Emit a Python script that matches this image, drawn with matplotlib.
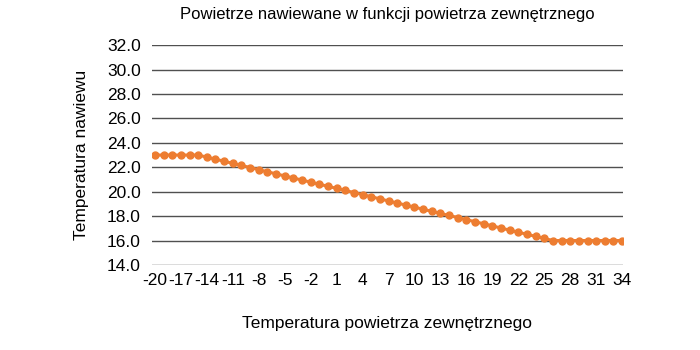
import matplotlib
matplotlib.use('Agg')
import matplotlib.pyplot as plt

plt.rcParams['font.family'] = ['Liberation Sans Narrow', 'Liberation Sans', 'DejaVu Sans']

outdoor = list(range(-20, 35))
supply = [23.0, 23.0, 23.0, 23.0, 23.0, 23.0,
          22.83, 22.66, 22.49, 22.32, 22.15, 21.98, 21.80, 21.63, 21.46, 21.29,
          21.12, 20.95, 20.78, 20.61, 20.44, 20.27, 20.10, 19.93, 19.76, 19.59,
          19.41, 19.24, 19.07, 18.90, 18.73, 18.56, 18.39, 18.22, 18.05, 17.88,
          17.71, 17.54, 17.37, 17.20, 17.02, 16.85, 16.68, 16.51, 16.34, 16.17,
          16.0, 16.0, 16.0, 16.0, 16.0, 16.0, 16.0, 16.0, 16.0]
x_ticks = list(range(-20, 35, 3))
y_ticks = [14, 16, 18, 20, 22, 24, 26, 28, 30, 32]

fig = plt.figure(figsize=(7, 3.5), dpi=100)
ax = fig.add_axes([0.217, 0.243, 0.673, 0.628])

ax.plot(outdoor, supply, color='#ED7D31', lw=2.2, marker='o', markersize=5, zorder=3)

ax.set_xlim(-20.35, 34.1)
ax.set_ylim(14, 32)
ax.set_yticks(y_ticks)
ax.set_yticklabels([f'{v:.1f}' for v in y_ticks])
ax.set_xticks(x_ticks)
ax.set_xticklabels([str(v) for v in x_ticks])
ax.grid(axis='y', color='#505050', lw=1)
ax.set_axisbelow(True)
for s in ax.spines.values():
    s.set_visible(False)
ax.tick_params(length=0, labelsize=12.5, colors='black')
ax.tick_params(axis='y', pad=8)
ax.tick_params(axis='x', pad=6)

ax.set_xlabel('Temperatura powietrza zewnętrznego', fontsize=12.5, labelpad=20)
ax.set_ylabel('Temperatura nawiewu', fontsize=12.5, labelpad=13)
ax.set_title('Powietrze nawiewane w funkcji powietrza zewnętrznego', fontsize=12, pad=19)

fig.savefig('out.png', dpi=100)
